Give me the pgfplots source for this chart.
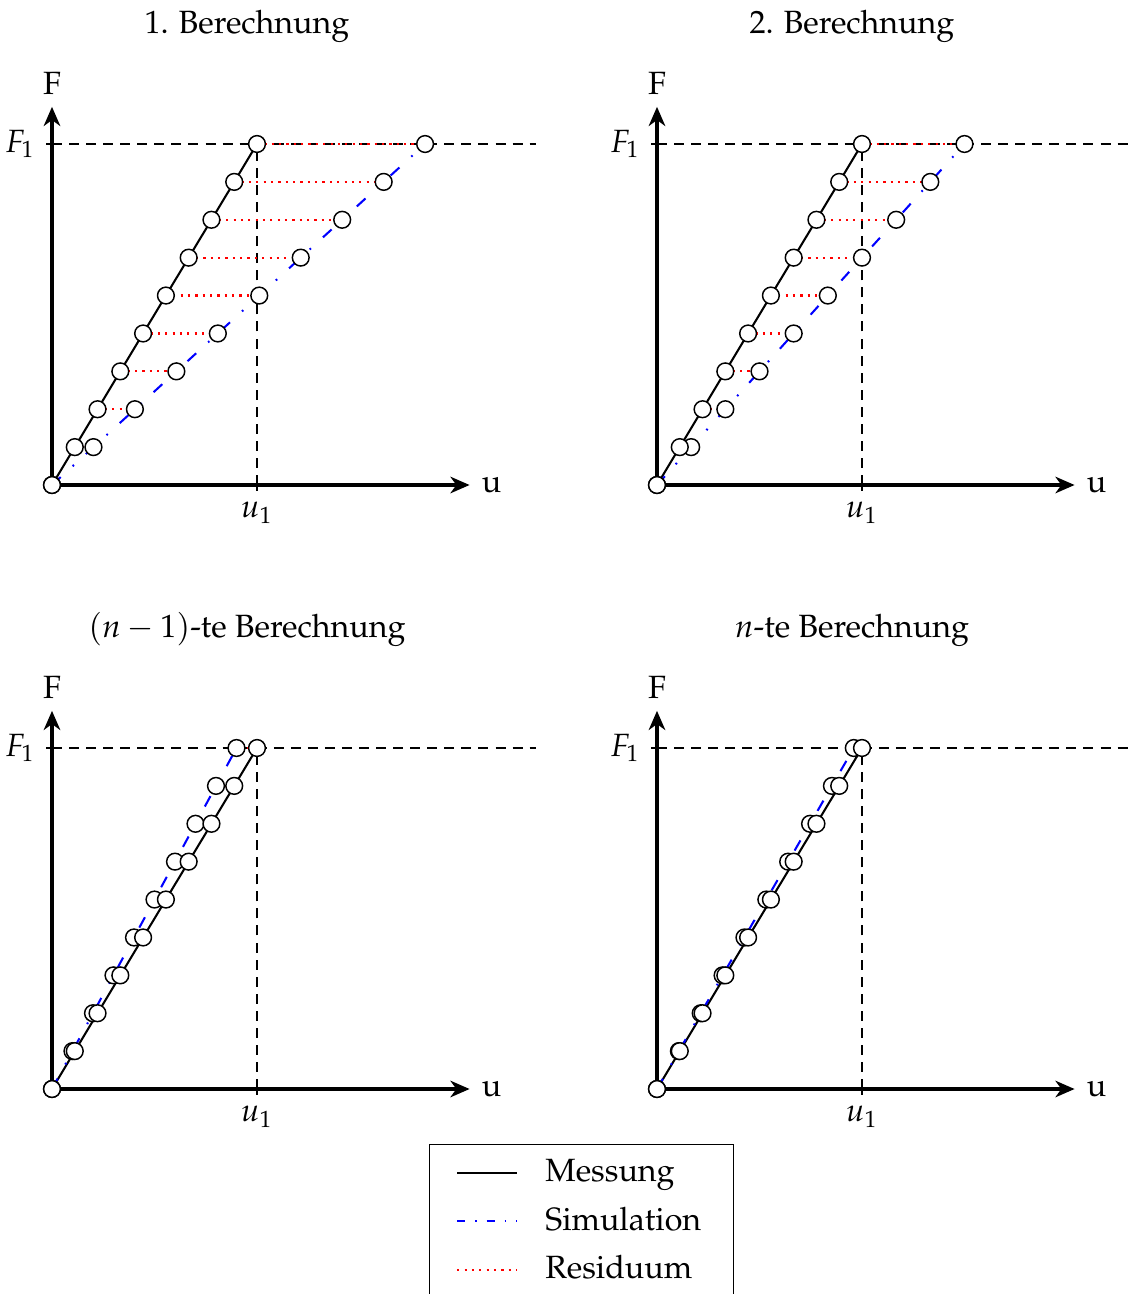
\documentclass[border=0pt,11pt]{standalone}
\usepackage[T1]{fontenc}
\usepackage{mathpazo}
\usepackage{pgfplots}
\usepackage{pgfplotstable}
\pgfplotsset{compat=1.18}
\usetikzlibrary{arrows.meta}

% columns: F, measured u, simulated u
\pgfplotstableread{
F      um     us
0      0      0
0.1111 0.1111 0.2022
0.2222 0.2222 0.4044
0.3333 0.3333 0.6067
0.4444 0.4444 0.8089
0.5556 0.5556 1.0111
0.6667 0.6667 1.2133
0.7778 0.7778 1.4156
0.8889 0.8889 1.6178
1      1      1.8200
}\tA
\pgfplotstableread{
F      um     us
0      0      0
0.1111 0.1111 0.1667
0.2222 0.2222 0.3333
0.3333 0.3333 0.5000
0.4444 0.4444 0.6667
0.5556 0.5556 0.8333
0.6667 0.6667 1.0000
0.7778 0.7778 1.1667
0.8889 0.8889 1.3333
1      1      1.5000
}\tB
\pgfplotstableread{
F      um     us
0      0      0
0.1111 0.1111 0.1000
0.2222 0.2222 0.2000
0.3333 0.3333 0.3000
0.4444 0.4444 0.4000
0.5556 0.5556 0.5000
0.6667 0.6667 0.6000
0.7778 0.7778 0.7000
0.8889 0.8889 0.8000
1      1      0.9000
}\tC
\pgfplotstableread{
F      um     us
0      0      0
0.1111 0.1111 0.1067
0.2222 0.2222 0.2133
0.3333 0.3333 0.3200
0.4444 0.4444 0.4267
0.5556 0.5556 0.5333
0.6667 0.6667 0.6400
0.7778 0.7778 0.7467
0.8889 0.8889 0.8533
1      1      0.9600
}\tD

\tikzset{
  refdash/.style={black, line width=0.4pt, dash pattern=on 3.4pt off 2.4pt},
  resid/.style={red, line width=0.75pt, dash pattern=on 0.75pt off 1.75pt},
  simline/.style={blue, line width=0.7pt, dash pattern=on 4pt off 5.5pt on 0.6pt off 5.5pt},
  measline/.style={black, line width=0.7pt},
}
\pgfplotsset{
  panel/.style={
    x=69.7pt, y=115.94pt,
    anchor=origin,
    xmin=0, xmax=2.037, ymin=0, ymax=1.109,
    axis lines=left,
    axis line style={line width=1.36pt, -{Stealth[length=6.5pt,width=5.6pt,inset=2pt]}},
    xtick={1}, xticklabels={$u_1$},
    ytick={1}, yticklabels={$F_1$},
    major tick length=4pt,
    tick style={black, thin},
    clip=false,
  },
}
\newcommand{\panelcontent}[2]{%
  \addplot [refdash, forget plot] coordinates {(0,1) (2.36,1)};
  \addplot [refdash, forget plot] coordinates {(1,0) (1,1)};
  \addplot [resid, forget plot, -, quiver={u=\thisrow{us}-\thisrow{um}, v=0}] table [x=um, y=F] {#1};
  \addplot [measline, forget plot] table [x=um, y=F] {#1};
  \addplot [simline, forget plot] table [x=us, y=F] {#1};
  \addplot [only marks, mark=*, mark size=2.85pt, mark options={fill=white, draw=black, line width=0.5pt, solid}, forget plot] table [x=us, y=F] {#1};
  \addplot [only marks, mark=*, mark size=2.85pt, mark options={fill=white, draw=black, line width=0.5pt, solid}, forget plot] table [x=um, y=F] {#1};
  \node [anchor=west, inner sep=4pt] at (axis cs:2.037,0) {u};
  \node [anchor=south, inner sep=4pt] at (axis cs:0,1.109) {F};
  \node [anchor=base] at (axis cs:0.951,1.3255) {#2};
}

\begin{document}
\begin{tikzpicture}
\begin{axis}[panel, at={(0pt,0pt)}]
  \panelcontent{\tA}{1. Berechnung}
\end{axis}
\begin{axis}[panel, at={(205.7pt,0pt)}]
  \panelcontent{\tB}{2. Berechnung}
\end{axis}
\begin{axis}[panel, at={(0pt,-205.36pt)}]
  \panelcontent{\tC}{$(n-1)$-te Berechnung}
\end{axis}
\begin{axis}[panel, at={(205.7pt,-205.36pt)},
  legend image code/.code={\draw[#1] (0pt,0pt) -- (20.4pt,0pt);},
  legend cell align=left,
  legend style={at={(axis cs:-0.368,-0.161)}, anchor=north, draw=black, line width=0.4pt,
    inner xsep=9pt, inner ysep=3pt, row sep=3pt,
    /tikz/every odd column/.append style={column sep=7.2pt}},
]
  \panelcontent{\tD}{$n$-te Berechnung}
  \addlegendimage{measline}
  \addlegendentry{Messung}
  \addlegendimage{blue, line width=0.7pt, dash pattern=on 2.8pt off 3.3pt on 0.6pt off 3.3pt}
  \addlegendentry{Simulation}
  \addlegendimage{resid}
  \addlegendentry{Residuum}
\end{axis}
\pgfresetboundingbox
\path[use as bounding box] (-17.68pt,-275.06pt) rectangle (367.88pt,164.9pt);
\end{tikzpicture}
\end{document}
